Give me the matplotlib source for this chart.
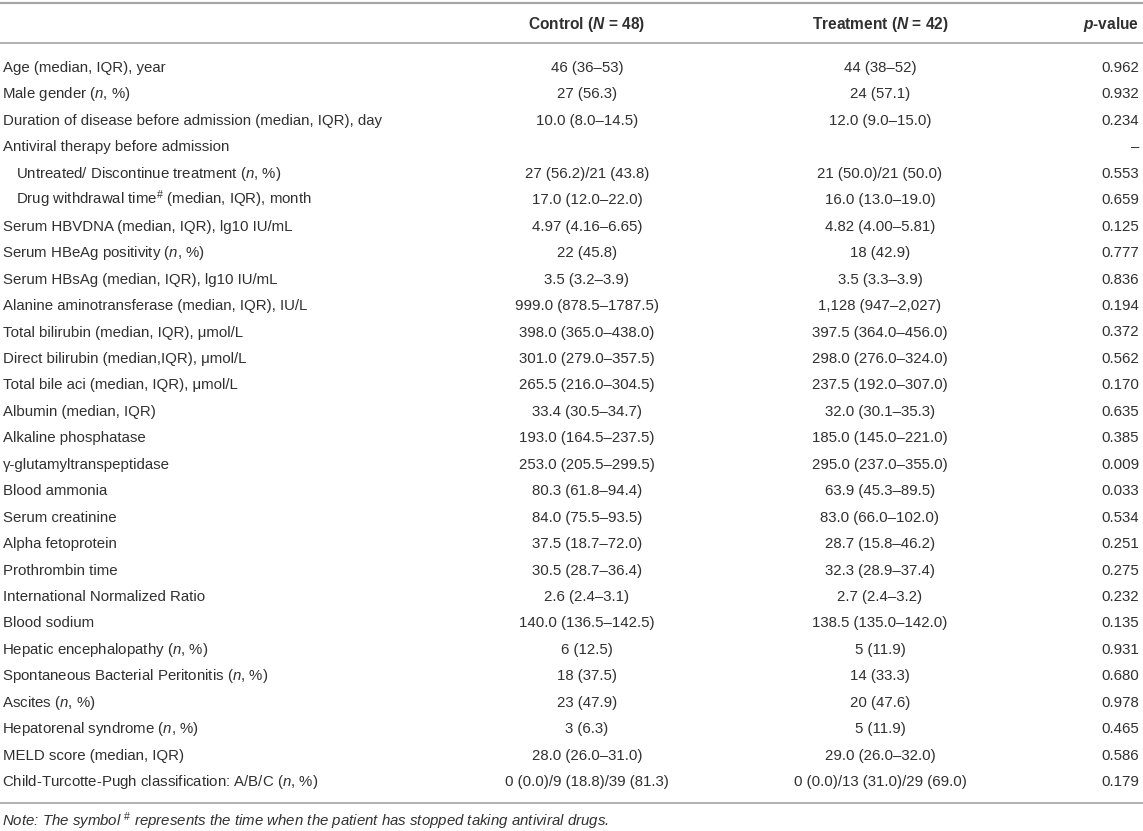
import matplotlib
matplotlib.use("Agg")
import matplotlib.pyplot as plt

plt.rcParams['font.family'] = ['Liberation Sans', 'DejaVu Sans']
plt.rcParams['mathtext.fontset'] = 'custom'
plt.rcParams['mathtext.rm'] = 'Liberation Sans'
plt.rcParams['mathtext.it'] = 'Liberation Sans:italic'
plt.rcParams['mathtext.sf'] = 'Liberation Sans:italic:bold'

# table content
headers = [r"Control ($\mathsf{N}$ = 48)", r"Treatment ($\mathsf{N}$ = 42)", r"$\mathsf{p}$-value"]

variables = [
    "Age (median, IQR), year",
    r"Male gender ($n$, %)",
    "Duration of disease before admission (median, IQR), day",
    "Antiviral therapy before admission",
    r"Untreated/ Discontinue treatment ($n$, %)",
    r"Drug withdrawal time$^{\#}$ (median, IQR), month",
    "Serum HBVDNA (median, IQR), lg10 IU/mL",
    r"Serum HBeAg positivity ($n$, %)",
    "Serum HBsAg (median, IQR), lg10 IU/mL",
    "Alanine aminotransferase (median, IQR), IU/L",
    "Total bilirubin (median, IQR), μmol/L",
    "Direct bilirubin (median,IQR), μmol/L",
    "Total bile aci (median, IQR), μmol/L",
    "Albumin (median, IQR)",
    "Alkaline phosphatase",
    "γ-glutamyltranspeptidase",
    "Blood ammonia",
    "Serum creatinine",
    "Alpha fetoprotein",
    "Prothrombin time",
    "International Normalized Ratio",
    "Blood sodium",
    r"Hepatic encephalopathy ($n$, %)",
    r"Spontaneous Bacterial Peritonitis ($n$, %)",
    r"Ascites ($n$, %)",
    r"Hepatorenal syndrome ($n$, %)",
    "MELD score (median, IQR)",
    r"Child-Turcotte-Pugh classification: A/B/C ($n$, %)",
]
indented = [4, 5]

control = [
    "46 (36–53)", "27 (56.3)", "10.0 (8.0–14.5)", "",
    "27 (56.2)/21 (43.8)", "17.0 (12.0–22.0)", "4.97 (4.16–6.65)", "22 (45.8)",
    "3.5 (3.2–3.9)", "999.0 (878.5–1787.5)", "398.0 (365.0–438.0)",
    "301.0 (279.0–357.5)", "265.5 (216.0–304.5)", "33.4 (30.5–34.7)",
    "193.0 (164.5–237.5)", "253.0 (205.5–299.5)", "80.3 (61.8–94.4)",
    "84.0 (75.5–93.5)", "37.5 (18.7–72.0)", "30.5 (28.7–36.4)", "2.6 (2.4–3.1)",
    "140.0 (136.5–142.5)", "6 (12.5)", "18 (37.5)", "23 (47.9)", "3 (6.3)",
    "28.0 (26.0–31.0)", "0 (0.0)/9 (18.8)/39 (81.3)",
]

treatment = [
    "44 (38–52)", "24 (57.1)", "12.0 (9.0–15.0)", "",
    "21 (50.0)/21 (50.0)", "16.0 (13.0–19.0)", "4.82 (4.00–5.81)", "18 (42.9)",
    "3.5 (3.3–3.9)", "1,128 (947–2,027)", "397.5 (364.0–456.0)",
    "298.0 (276.0–324.0)", "237.5 (192.0–307.0)", "32.0 (30.1–35.3)",
    "185.0 (145.0–221.0)", "295.0 (237.0–355.0)", "63.9 (45.3–89.5)",
    "83.0 (66.0–102.0)", "28.7 (15.8–46.2)", "32.3 (28.9–37.4)", "2.7 (2.4–3.2)",
    "138.5 (135.0–142.0)", "5 (11.9)", "14 (33.3)", "20 (47.6)", "5 (11.9)",
    "29.0 (26.0–32.0)", "0 (0.0)/13 (31.0)/29 (69.0)",
]

p_values = [
    "0.962", "0.932", "0.234", "–", "0.553", "0.659", "0.125", "0.777", "0.836",
    "0.194", "0.372", "0.562", "0.170", "0.635", "0.385", "0.009", "0.033",
    "0.534", "0.251", "0.275", "0.232", "0.135", "0.931", "0.680", "0.978",
    "0.465", "0.586", "0.179",
]

note = "Note: The symbol $^{\\#}$ represents the time when the patient has stopped taking antiviral drugs."

# layout (pixel coords)
W, H = 1143, 831
fs = 10.8
fs_head = 11.2
txt = '#303030'
rule = '#a6a6a6'
x_left, x_indent = 3, 18
x_ctrl, x_trt, x_p = 587, 880, 1139
y_first, row_h = 67, 26.45
base = 5

fig = plt.figure(figsize=(W / 100, H / 100), dpi=100)
ax = fig.add_axes([0, 0, 1, 1])
ax.set_xlim(0, W)
ax.set_ylim(H, 0)
ax.axis('off')

# rules
ax.plot([0, W], [3, 3], color=rule, lw=1.6, solid_capstyle='butt')
ax.plot([0, W], [43, 43], color=rule, lw=1.2, solid_capstyle='butt')
ax.plot([0, W], [803, 803], color=rule, lw=1.2, solid_capstyle='butt')

# header
hy = 24 + base
ax.text(x_ctrl, hy, headers[0], ha='center', va='baseline', fontsize=fs_head, fontweight='bold', color=txt)
ax.text(x_trt, hy, headers[1], ha='center', va='baseline', fontsize=fs_head, fontweight='bold', color=txt)
ax.text(x_p, hy, headers[2], ha='right', va='baseline', fontsize=fs_head, fontweight='bold', color=txt)

for i, lab in enumerate(variables):
    y = y_first + i * row_h + base
    x0 = x_indent if i in indented else x_left
    if '$' in lab:
        x0 -= 1.5   # mathtext strings get a small left pad
    ax.text(x0, y, lab, ha='left', va='baseline', fontsize=fs, color=txt)
    ax.text(x_ctrl, y, control[i], ha='center', va='baseline', fontsize=fs, color=txt)
    ax.text(x_trt, y, treatment[i], ha='center', va='baseline', fontsize=fs, color=txt)
    ax.text(x_p, y, p_values[i], ha='right', va='baseline', fontsize=fs, color=txt)

ax.text(x_left - 1.5, 826, note, ha='left', va='baseline', fontsize=fs, style='italic', color=txt)

fig.savefig("out.png", dpi=100, facecolor='#ffffff')
